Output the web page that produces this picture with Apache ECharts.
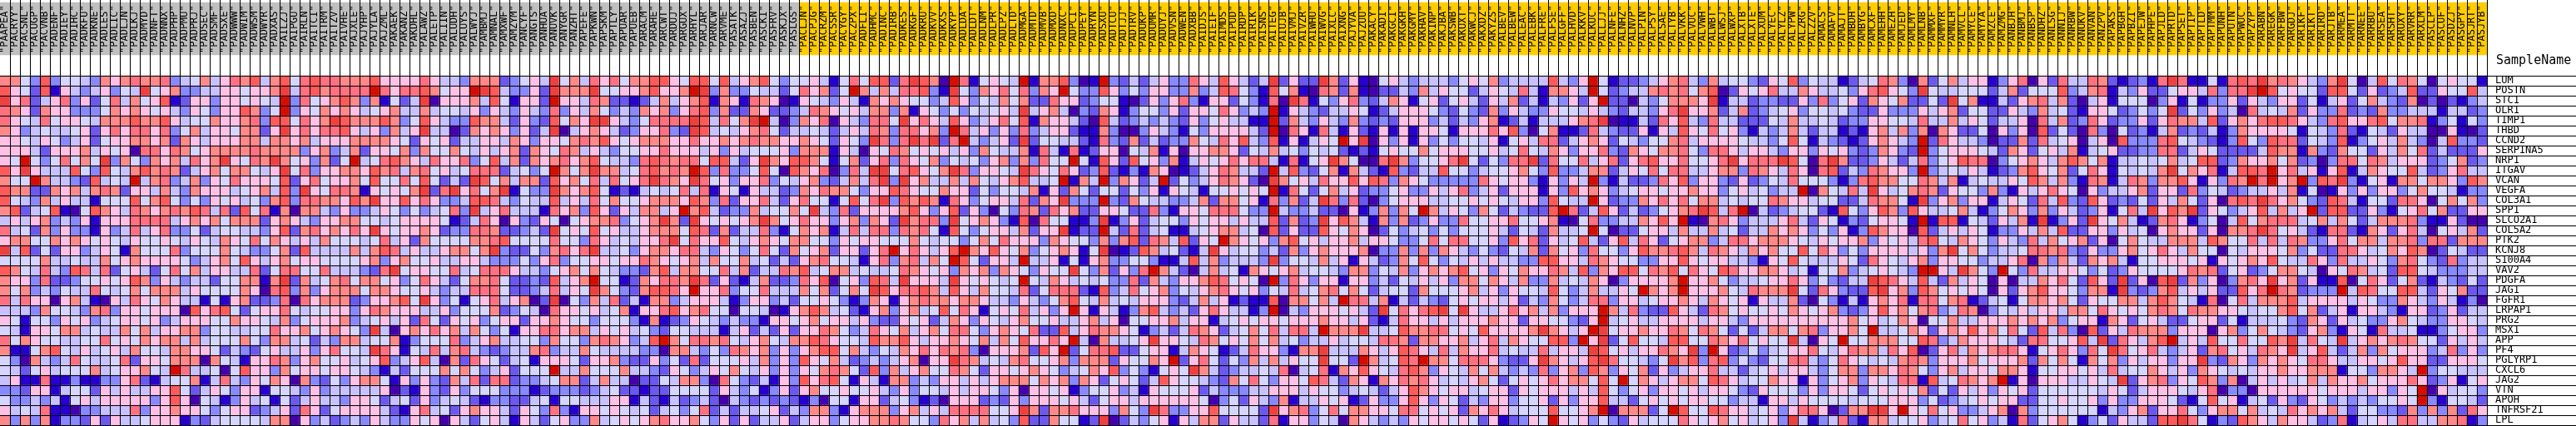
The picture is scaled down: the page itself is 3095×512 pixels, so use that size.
<!DOCTYPE html>
<html><head><meta charset="utf-8">
<style>html,body{margin:0;padding:0;background:#fff}#c{width:3095px;height:512px}</style>
<script src="https://cdn.jsdelivr.net/npm/echarts@6/dist/echarts.min.js"></script>
</head><body><div id="c"></div>
<script>
const genes = ["LUM","POSTN","STC1","OLR1","TIMP1","THBD","CCND2","SERPINA5","NRP1","ITGAV","VCAN","VEGFA","COL3A1","SPP1","SLCO2A1","COL5A2","PTK2","KCNJ8","S100A4","VAV2","PDGFA","JAG1","FGFR1","LRPAP1","PRG2","MSX1","APP","PF4","PGLYRP1","CXCL6","JAG2","VTN","APOH","TNFRSF21","LPL"];
const samplesA = ["PAAPEA","PACRYY","PACSNL","PACUGP","PACVNB","PADENF","PADIEY","PADIHC","PADKFU","PADKNE","PADLES","PADLIC","PADLJN","PADLKJ","PADMYD","PADNFT","PADNNX","PADPHP","PADPMU","PADPRJ","PADSEC","PADSMF","PADSXE","PADWWW","PADWIM","PADWSM","PADWYR","PADXAS","PAILZJ","PAIPGU","PAIRLN","PAITCI","PAITRM","PAITZV","PAIVHE","PAJXLE","PAJYHP","PAJYLA","PAJZML","PAKAEK","PAKANZ","PAKDHL"];
const samplesB = ["PALAWZ","PALETP","PALIIN","PALUDH","PALUYS","PALWYJ","PAMBMJ","PAMNAL","PAMXWF","PAMZYM","PANCYF","PANGTS","PANHUA","PANUVK","PANYGR","PANZHT","PAPEFE","PAPKWN","PAPSKM","PAPTLY","PAPUAR","PAPUEB","PARACM","PARAHE","PARCWT","PARDUJ","PARGUX","PARHYL","PARJAR","PARNCW","PARVME","PASATK","PASAZJ","PASBEN","PASCKI","PASFRV","PASKJX","PASLGS"];
const samplesC = ["PACLJN","PACPJG","PACRZM","PACSSR","PACYGY","PACZPX","PADFLI","PADHMC","PADINC","PADIRB","PADKES","PADKGF","PADKRU","PADKVV","PADKXS","PADKYP","PADLDA","PADLDT","PADLNM","PADLPR","PADLPZ","PADLTD","PADMGA","PADMTD","PADMVB","PADMXD","PADNXC","PADPCI","PADPEY","PADRYN","PADSXU","PADTCU","PADTJJ","PADTRV","PADUKP","PADUMR","PADUYJ","PADVSN","PADWEN","PADXBB","PAIDJS","PAIEIF","PAIMDS","PAIPUD","PAIRDP","PAIRIK"];
const samplesD = ["PAISNS","PAITEG","PAIUJB","PAIVMJ","PAIVZR","PAIWHU","PAIWVG","PAIXLC","PAIXNG","PAJYVA","PAJZUU","PAKACY","PAKADI","PAKGCI","PAKGKH","PAKGMY","PAKHAV","PAKINP","PAKJBA","PAKSWB","PAKUXT","PAKWCJ","PAKXDZ","PAKYZS","PALBEV","PALBEW","PALEAC","PALEBK","PALFRE","PALFSE","PALGFF","PALHVD","PALKKV","PALKUC","PALLJJ","PALNFE","PALNHZ","PALNVP","PALPIN","PALPSY","PALSAE","PALTYB"];
const samplesE = ["PALVKK","PALVUC","PALVWH","PALWBT","PALWSJ","PALWXP","PALXTB","PALXTE","PALXUM","PALYEC","PALYLZ","PALYPW","PALZRG","PALZZV","PAMACS","PAMAFV","PAMAJT","PAMBDH","PAMBYG","PAMCXF","PAMEHH","PAMEZH","PAMJED","PAMLMY","PAMLNB","PAMMXF","PAMMYR","PAMNLH","PAMVCL","PAMYCE","PAMYYA","PAMZCE","PAMZMG","PANBJH","PANBMJ","PANBSP","PANDHZ","PANLSG","PANNIJ","PANRBW","PANUKV","PANVAN"];
const samplesF = ["PANZPV","PAPAKS","PAPBGH","PAPBZI","PAPEJW","PAPHPE","PAPJLD","PAPRTD","PAPSET","PAPTIP","PAPTLD","PAPTMM","PAPUNH","PAPUTN","PAPWUC","PAPZYP","PARABN","PAREGK","PARFBW","PARGDJ","PARIKF","PARIKT","PARIRD","PARJTB","PARMEA","PARMTT","PARNEE","PARRBU","PARSEA","PARSHT","PARUXY","PARVRR","PARXLM","PASCLP","PASCUF","PASDZJ","PASGPY","PASJRT","PASJYB"];
const groupSizes = [80, 169];
const palette = ["#4500AD","#2700D1","#6B58EF","#8888FF","#C7C1FF","#D5D5FF","#FFC0E5","#FF8989","#FF7080","#FF5A5A","#EF4040","#D60C00"];
const groupColors = ["#C0C0C0","#FFCC00"];
// Colour level (hex digit 0..b) of each cell, row by row, for columns 0-41.
const block1 = [
"7753935543 7678778345 7468794795 8988777966 66",
"9652916434 6354a56733 44665667a4 8978888b86 88",
"a682468362 5847569126 63665654b3 8567973715 24",
"8762766333 5767656436 53669735b3 6576764567 44",
"8654856654 7779779645 5766783995 867a977797 35",
"7634544562 6868868357 46657726a6 8688964637 46",
"6654653462 5667767276 4666774776 7466677776 52",
"6664266674 6560886875 6777787777 3673472665 73",
"65b5358575 a375376748 67a6587a75 63725b4589 76",
"96a6444953 9547978724 67577546a5 8366776978 47",
"755b744329 454b478347 3658666592 6856675955 85",
"9772276747 8726647437 6664567493 a658871656 57",
"9543746441 5559579535 3656453793 8877697a66 96",
"7924591059 7648767879 8482958170 7743633465 35",
"4646734361 6668888467 6757772676 4366775545 66",
"8452736331 6348468335 2455443692 7867686a65 66",
"6775576765 6546556546 5476585764 6475554584 62",
"a492526634 6517555835 5575433572 9444474798 46",
"5555744544 7567666653 4675964675 6655556736 75",
"9754843984 8256425857 4664482588 558444328a 56",
"7663822355 6569736434 42557717a2 7457857756 35",
"7573435448 5457577746 5555760893 7367775776 55",
"8486606741 0648657644 1516722380 8677723667 95",
"4443755437 8366566609 6895256685 4556636876 66",
"6515536563 4566563466 6557665473 5666734564 62",
"5416657745 4475746677 3554455866 7567653a40 67",
"8576554455 8565767747 4555753774 5243774557 13",
"7115795464 5647554776 6524325644 6368554a86 15",
"5307434854 4582665777 0754166873 6755645693 46",
"5425645557 4566754b84 4505966375 6656654314 25",
"4611811311 3368214557 1484365760 7325367751 63",
"3326614552 6464466952 4653661554 3634444460 21",
"5334341564 6666636960 5413645152 4644366524 52",
"6454811033 4448366766 5356623462 8625666642 16",
"7373713326 2644566613 2455554770 6342343643 36"];
// Columns 42-83.
const block2 = [
"8644377723 564a574868 5779965995 9467953556 41",
"97566ba943 362a777a55 6679667ba3 7335442586 72",
"a066674951 662b664872 2124746791 7618760165 43",
"7455463643 6438364753 4376736893 7227622348 76",
"9643397742 6329576aa6 4358888a94 857ab40376 80",
"a440276763 624a046764 2366832a94 5467852445 42",
"6562446647 6366578796 5677766866 7678776676 52",
"7557546467 2765874643 5566866646 3645556377 71",
"4866835947 2767867954 4389878859 9426a76997 51",
"8564588824 535b757a77 4589787b93 8335950976 80",
"95242a9574 7729675848 568a876a85 6366835467 32",
"a28a6857a1 533a767951 2145458481 6516442376 87",
"8633499843 5449464857 5567776973 8266842685 51",
"34583a4684 4418673962 647746b794 233745575a 43",
"6651248606 3265056778 3567a72a65 6567a75686 63",
"7623388722 342a565956 4467775982 7244831576 71",
"7555577895 5558553864 54668a5866 9546765775 53",
"4467757a32 2537868a44 5367768843 6535852756 72",
"5644664333 5368355665 6687656747 5574524267 85",
"6558458886 4435675754 3327947755 8472448794 57",
"8642577852 2329467b55 1276887a82 6214722386 90",
"6434488852 2348465a75 3279986b66 8355844475 72",
"a635156846 702a053748 2417734666 4136634255 65",
"4463555723 5408665645 7166896785 5055401679 74",
"8526563566 2667655355 5317123654 3433166567 56",
"6867475351 6688677465 6453255444 1462426266 87",
"5558346744 5537553787 6349b75887 8546754779 86",
"4847843234 4783447544 4433077435 3876736367 99",
"9407286524 5166652667 3226352825 5564736396 57",
"5575753462 555b447555 7443265346 5754636365 78",
"6327482882 3345772474 4022547730 8532416396 89",
"6326355533 3123332345 2212255552 6435136267 55",
"6345421332 2451554446 6142142342 0432323213 05",
"8452676642 6538316656 5452453582 4244562437 73",
"5606425641 6425633745 6567866753 6262446246 63"];
// Columns 84-125.
const block3 = [
"5859928a97 0b815654b1 779301b324 2463386496 42",
"5b74748893 1a53768583 76b5339635 3663373498 53",
"6417676553 4963547572 2866235510 2636831662 53",
"5647737165 35354564a4 6740327613 5536266586 34",
"643885a686 4963468591 7664209423 4343263564 41",
"4648738867 3b84636383 4662117300 3643153666 64",
"653a838a8a 28b43462a2 5544218327 2423375486 94",
"6406587565 6463754471 8418126605 4716066776 25",
"5726838657 3545367373 855b519629 5637146568 68",
"384aa58965 7a836654a8 6586239213 1760124687 44",
"4748a3a674 4747546794 45b174b376 24b2534687 62",
"7536698655 7662535547 1627525525 3616541556 56",
"5958a39797 1863566482 76a333b327 5443347277 56",
"8266667963 6926305387 2867226652 2831665888 53",
"673762a788 3a56763190 855113a136 2455365664 64",
"4848838785 1953566472 66a122b428 2451145677 45",
"6566555754 5535758666 3765537379 28749265b7 65",
"66268b6864 69b7696573 567615a012 9745214a64 55",
"5416837847 5b952664b4 4615167335 5311494734 44",
"7454458765 6376737653 655a537263 8b74204745 17",
"563984a666 4a656545b5 4764545338 2743667985 65",
"575a968897 4964755482 5888219348 5673546786 56",
"3137616787 7677644364 3579547454 6663247461 21",
"5216736745 9586156584 636b616413 7943426864 41",
"6463226562 4763654675 5644674605 5667466145 65",
"5348657467 5885367658 2294687765 1342487624 57",
"5549779646 6765747596 686b407445 6a66548756 57",
"5743547686 8783066672 96b2588922 5661476512 48",
"4234346706 6a87454785 5673777265 576b268525 37",
"7529374675 5875266567 6534576935 31565a7423 44",
"5164177343 6646467775 7673762565 2496554327 58",
"6556436355 4646653606 6561355634 1655562433 34",
"5166245312 0666232636 6656425664 6666665035 26",
"1677736746 48888556a7 2778666375 3a83366955 55",
"5667787553 8674745392 275512a024 3561647726 44"];
// Columns 126-167.
const block4 = [
"4a2622a726 1056434443 5657344449 436b512234 67",
"1957108727 1022437465 5246548417 764b523447 87",
"180a815368 3247615625 6426472414 3626b22043 57",
"3b16432446 5124666532 5327364336 5546432443 68",
"1b27436437 3232666342 4367124144 4678a01142 86",
"2b08618416 2161616651 6668693057 1128432261 64",
"39161465b6 a063616353 5546156488 2467625435 57",
"4745354521 2156557566 6556458547 6366832765 77",
"8418156a75 008a735568 a525388a28 5584682689 66",
"2b49325717 4219324495 5345567539 3347724658 58",
"0a75648669 6983765333 3386566316 364b314223 86",
"5b18525746 2335633646 8346266616 3967634566 56",
"183724a838 2035666445 5656546639 544b623376 86",
"3b43342206 137375b746 5375243229 b824962423 56",
"492723a697 4173723633 8556685567 1058334476 96",
"0926229657 6025345353 5556425427 445b502256 64",
"6379564667 4665335858 8556396826 4594269486 25",
"3427367666 7033737376 4353254727 5638553697 78",
"3a35547461 6423759535 4646443399 6648765533 66",
"6567455437 7354736767 9563657668 7493769958 79",
"0b38636616 6342546463 7757647337 4547603666 67",
"3548457857 5245527555 6746365549 53474465b7 67",
"19077574b8 8471424325 6566462437 5348836645 66",
"3b04366656 42a58689a5 a644686747 3666b74832 29",
"6656667664 6214866464 6667662665 5326b45644 66",
"584884b777 a445977885 65966667a7 646ba56676 68",
"5745344645 5488727766 7468476559 93b6a25955 49",
"663177a444 7646986484 7668454484 664a956466 87",
"474655a552 b74598b775 88863226a7 6469a85543 5a",
"5480458176 9654897365 4757434383 6739736572 63",
"5366598427 6176878645 4675256568 677595b576 46",
"4666465534 5424697656 6456626566 6464953563 66",
"4371446561 2633696365 2436635562 6366944256 56",
"2a67835857 7665885656 2768645559 5567b07772 5b",
"2816635407 6434365665 652612365b 6563532645 55"];
// Columns 168-209.
const block5 = [
"8437455326 5935441245 8730725746 6136806284 48",
"8579026568 4476445368 9653a54455 5247255593 47",
"776a144233 2263835627 6572252a57 1142678472 04",
"a667247234 5635545322 6333646725 5226437452 16",
"9438442225 4744542336 6554844746 5244608472 38",
"9658563143 4742441216 7473707622 5063609252 08",
"8466665443 5951432126 7643b28644 3022728456 04",
"8538864664 3663656323 7632b35666 5427625647 14",
"85568a6888 a9508a7223 6424835698 8035676479 75",
"8446773876 4860892438 7663b34546 4123796572 58",
"9366326235 4855531389 7755874714 5446597473 18",
"6766356453 44b075484a 6457872655 3731646865 06",
"8577454558 7664552248 7751a36736 6146528493 29",
"78a948b042 3455219536 9739644574 1357637364 23",
"b107863444 6842651325 6651b19915 426471a136 2a",
"7447452447 6763536139 7660924646 5133647492 26",
"6773488677 7654656673 6564895476 5364384756 72",
"9748764767 5595863536 6664637a57 5344588783 26",
"9656644316 5954446528 6546736655 3446807374 27",
"5865986677 6451557345 6543bb64a7 53b5384466 53",
"b667534456 686353244a 9864942746 5060447685 29",
"b666754877 7a52863229 a673975656 5062679665 37",
"7647656164 4720531416 7681885781 2451577675 26",
"6428756556 5765673236 9675783487 0354646647 75",
"6646643666 6666666756 4576055744 6667676735 66",
"7587525247 757836675b 4457626769 6758529483 09",
"9558768565 5a4065b557 7755983476 6654288556 94",
"6a3b623534 5668546877 4869026847 6788615686 38",
"7938935325 5884358654 5478736667 5666727575 17",
"4668442456 4664357737 7687536746 6577615566 56",
"7759864557 6616356736 5488194587 67b1606664 46",
"5646653265 5536366525 6565725264 6365625555 55",
"5665534416 6465555455 5666352345 6566225565 56",
"9559866456 368860277a a6b6585633 4670735555 55",
"8656756456 3a41348217 7455634585 6341825675 13"];
// Columns 210-248.
const block6 = [
"7212318a81 151898a787 6437a50495 875056551",
"8143622566 48388ab956 5529952623 492265594",
"6155503615 1336264366 2514625743 270202134",
"6523535a25 3634084547 2633823273 344414423",
"6233626877 4926768998 6438966895 778135153",
"3052314723 2413766665 1543821542 644006102",
"6093338954 3213953988 2543913564 743049332",
"5622338824 6522224977 1732755264 758242226",
"7144545745 9923766757 2303885874 666235723",
"6154547a57 6814998b68 4616914765 594236844",
"7148737796 16387b8b67 b398a31561 775776397",
"3446726628 3542344647 1501636366 357554133",
"6232526475 260898a867 5329841552 886057573",
"61584a697a 2653469474 6b29922631 568572266",
"6574127861 3504957888 4574752477 783116200",
"6364506766 260778a856 4218821762 684056472",
"6057544777 4975584848 7336857747 783882777",
"3367568647 5505466657 3522886457 697025422",
"6741556665 6165676954 4863844653 785328344",
"5236555568 7825623577 5406587452 995433344",
"62a2609a27 3603786a67 2611905862 572143252",
"71a3237946 4622968b87 2333b49855 994265722",
"5577479754 1805847779 4666646533 764364130",
"8656578758 7766545579 5724616643 166236244",
"1762564225 6625144453 2762645336 754336654",
"2648777366 6067357543 2673165184 451135663",
"a286479b46 495585597a 4854a46767 875526464",
"5a85684346 278564876a 4694247375 666348363",
"5736466366 a327637676 5886446656 966226665",
"4845576463 7654546676 6777155377 64b355444",
"54a2678365 9737046464 5747667566 686236156",
"4652466654 6803306666 6656664663 65b064553",
"3633666521 5956145263 2653434355 65b315542",
"1436726685 3677574548 6767425533 273737286",
"52644299a8 5132976476 6423814564 884477813"];

const samples = [].concat(samplesA, samplesB, samplesC, samplesD, samplesE, samplesF);
const sampleLabels = samples.map(s => '"' + s + '"');
const blocks = [block1, block2, block3, block4, block5, block6];
const rows = genes.map((g, r) => blocks.map(b => b[r].replace(/ /g, '')).join(''));
const cells = [];
rows.forEach((row, r) => { for (let c = 0; c < row.length; c++) cells.push([c, r, parseInt(row[c], 16)]); });
const headerCells = [];
let k = 0;
groupSizes.forEach((n, g) => { for (let i = 0; i < n; i++) headerCells.push([k++, 0, g]); });

const FONT = '"DejaVu Sans Mono", monospace';
const hidden = { axisLine: { show: false }, axisTick: { show: false }, axisLabel: { show: false }, splitLine: { show: false } };
const chart = echarts.init(document.getElementById('c'), null, { renderer: 'canvas' });
chart.setOption({
  animation: false,
  backgroundColor: '#fff',
  title: { text: 'SampleName', left: 2999, top: 66, padding: 0, textStyle: { fontFamily: FONT, fontSize: 15, fontWeight: 'normal', color: '#000' } },
  grid: [
    { left: 0, top: 3, width: 2988, height: 63 },
    { left: 0, top: 0, width: 2988, height: 91 },
    { left: 0, top: 91, width: 2988, height: 420 },
    { left: 2988, top: 91, width: 107, height: 420 }
  ],
  xAxis: [
    { gridIndex: 0, type: 'category', data: sampleLabels, z: 10, position: 'bottom', axisLine: { show: false }, axisTick: { show: false }, splitLine: { show: false },
      axisLabel: { show: true, inside: true, rotate: 90, interval: 0, margin: 2, padding: [3, 0, 0, 0], hideOverlap: false, fontFamily: FONT, fontSize: 12, color: '#000' } },
    { gridIndex: 1, type: 'category', data: sampleLabels, z: 11, axisLine: { show: false }, axisTick: { show: false }, axisLabel: { show: false },
      splitLine: { show: true, interval: 0, showMinLine: false, lineStyle: { color: '#000', width: 1 } } },
    { gridIndex: 2, type: 'category', data: sampleLabels, z: 11, axisLine: { show: false }, axisTick: { show: false }, axisLabel: { show: false },
      splitLine: { show: true, interval: 0, showMinLine: false, lineStyle: { color: '#000', width: 1 } } },
    Object.assign({ gridIndex: 3, type: 'value', min: 0, max: 1 }, hidden)
  ],
  yAxis: [
    Object.assign({ gridIndex: 0, type: 'category', data: ['group'] }, hidden),
    Object.assign({ gridIndex: 1, type: 'category', data: ['lines'] }, hidden),
    { gridIndex: 2, type: 'category', data: genes, inverse: true, z: 11, axisLine: { show: false }, axisTick: { show: false }, axisLabel: { show: false },
      splitLine: { show: true, interval: 0, lineStyle: { color: '#000', width: 1 } } },
    { gridIndex: 3, type: 'category', data: genes, inverse: true, z: 11, position: 'left', axisLine: { show: false }, axisTick: { show: false },
      axisLabel: { show: true, inside: true, interval: 0, margin: 10, padding: [3, 0, 0, 0], hideOverlap: false, fontFamily: FONT, fontSize: 12, color: '#000' },
      splitLine: { show: true, interval: 0, lineStyle: { color: '#000', width: 1 } } }
  ],
  visualMap: [
    { show: false, type: 'piecewise', seriesIndex: 0, dimension: 2, pieces: palette.map((c, i) => ({ value: i, color: c })) },
    { show: false, type: 'piecewise', seriesIndex: 1, dimension: 2, pieces: groupColors.map((c, i) => ({ value: i, color: c })) }
  ],
  series: [
    { type: 'heatmap', xAxisIndex: 2, yAxisIndex: 2, data: cells, progressive: 0, silent: true },
    { type: 'heatmap', xAxisIndex: 0, yAxisIndex: 0, data: headerCells, progressive: 0, silent: true }
  ]
});
</script></body></html>
